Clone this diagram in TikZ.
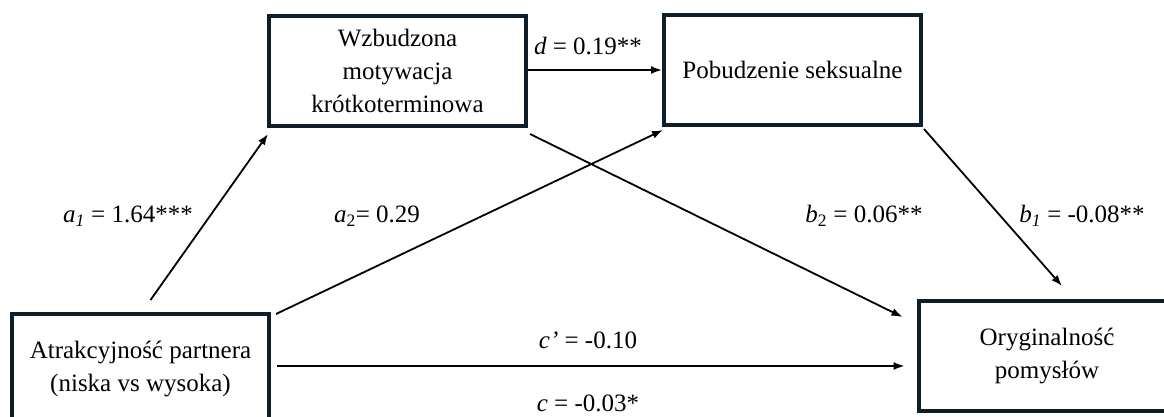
\documentclass[tikz,border=0pt]{standalone}
\usepackage{fontspec}
\setmainfont{Liberation Serif}
\usetikzlibrary{arrows.meta,calc}
\definecolor{boxcol}{RGB}{14,30,42}
\begin{document}
\begin{tikzpicture}[x=1pt,y=-1pt,
  box/.style={draw=boxcol,line width=4pt,minimum width=257pt,minimum height=110pt,inner sep=0pt,align=center,font=\fontsize{25}{33}\selectfont},
  conn/.style={line width=1.8pt,-{Latex[length=11pt,width=8pt]}},
  lbl/.style={font=\fontsize{25}{30}\selectfont,inner sep=0pt}]
\useasboundingbox (0,0) rectangle (1164,417);
\clip (0,0) rectangle (1164,417);
\fill[white] (0,0) rectangle (1164,417);
% boxes
\node[box] (mot) at (397.5,71) {Wzbudzona\\motywacja\\krótkoterminowa};
\node[box] (pob) at (792.5,70) {Pobudzenie seksualne};
\node[box] (atr) at (140.5,369) {Atrakcyjność partnera\\(niska vs wysoka)};
\node[box] (ory) at (1047,356) {Oryginalność\\pomysłów};
% anchor points for connectors
\coordinate (a1s) at ($(atr.north)+(10,-12)$);
\coordinate (a1e) at ($(mot.south west)+(1,6)$);
\coordinate (a2s) at ($(atr.north east)+(5,2)$);
\coordinate (a2e) at ($(pob.south west)+(1,3)$);
\coordinate (b2s) at ($(mot.south east)+(2,6)$);
\coordinate (b2e) at ($(ory.north west)+(-14,18)$);
\coordinate (b1s) at ($(pob.south east)+(1,2)$);
\coordinate (b1e) at ($(ory.north)+(15,-13)$);
\coordinate (cs) at ($(atr.east)+(6,-3)$);
\coordinate (ce) at (cs -| {$(ory.west)+(-12,0)$});
% connectors
\draw[conn] (a1s) -- (a1e);
\draw[conn] (a2s) -- (a2e);
\draw[conn] (mot.east |- pob.west) -- (pob.west);
\draw[conn] (b2s) -- (b2e);
\draw[conn] (b1s) -- (b1e);
\draw[conn] (cs) -- (ce);
% labels
\node[lbl] (la1) at (128,216) {\textit{a}\textsubscript{\textit{1}} = 1.64***};
\node[lbl] (la2) at (377,216) {\textit{a}\textsubscript{2}= 0.29};
\node[lbl] (ld) at (588,46) {\textit{d} = 0.19**};
\node[lbl] (lb2) at (864,216) {\textit{b}\textsubscript{2} = 0.06**};
\node[lbl] (lb1) at (1082,216) {\textit{b}\textsubscript{\textit{1}} = -0.08**};
\node[lbl] (lcp) at (588,340) {\textit{c’} = -0.10};
\node[lbl] (lc) at (588,403) {\textit{c} = -0.03*};
\end{tikzpicture}
\end{document}
